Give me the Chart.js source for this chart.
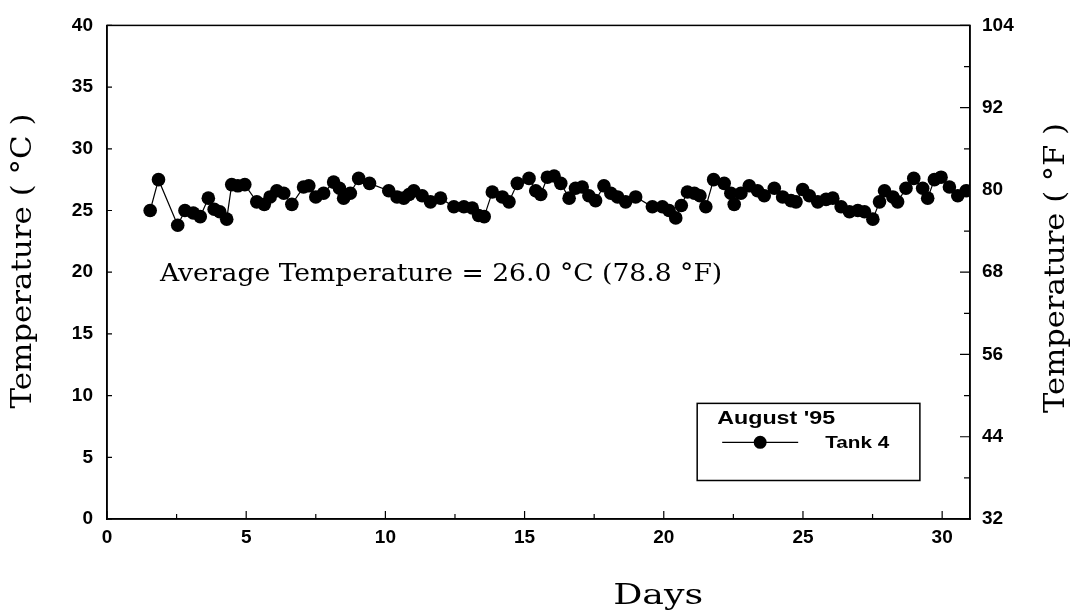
<!DOCTYPE html>
<html>
<head>
<meta charset="utf-8">
<script src="https://cdn.jsdelivr.net/npm/chart.js@4/dist/chart.umd.min.js"></script>
<style>
  body { margin: 0; background: #fff; }
  #wrap { width: 1078px; height: 611px; position: relative; }
</style>
</head>
<body>
<div id="wrap"><canvas id="tempChart"></canvas></div>
<script>
// days of August '95 and tank 4 temperature readings (deg C)
const days = [
  1.55, 1.85, 2.54, 2.8, 3.1, 3.35, 3.64, 3.85, 4.05, 4.3,
  4.48, 4.7, 4.95, 5.38, 5.65, 5.86, 6.1, 6.35, 6.64, 7.06,
  7.25, 7.5, 7.78, 8.14, 8.35, 8.5, 8.74, 9.04, 9.43, 10.12,
  10.42, 10.66, 10.85, 11.02, 11.32, 11.62, 11.98, 12.46, 12.82, 13.12,
  13.35, 13.55, 13.84, 14.2, 14.44, 14.74, 15.16, 15.4, 15.58, 15.82,
  16.06, 16.3, 16.6, 16.83, 17.07, 17.31, 17.55, 17.85, 18.1, 18.34,
  18.63, 18.99, 19.59, 19.95, 20.19, 20.43, 20.63, 20.85, 21.1, 21.3,
  21.51, 21.79, 22.17, 22.41, 22.53, 22.77, 23.07, 23.37, 23.61, 23.97,
  24.27, 24.57, 24.75, 24.99, 25.23, 25.53, 25.83, 26.07, 26.37, 26.67,
  26.97, 27.21, 27.51, 27.75, 27.93, 28.23, 28.4, 28.7, 28.98, 29.3,
  29.48, 29.72, 29.96, 30.26, 30.56, 30.86
];
const tempC = [
  25.0, 27.5, 23.8, 25.0, 24.8, 24.5, 26.0, 25.1, 24.9, 24.3,
  27.1, 27.0, 27.1, 25.7, 25.5, 26.1, 26.6, 26.4, 25.5, 26.9,
  27.0, 26.1, 26.4, 27.3, 26.8, 26.0, 26.4, 27.6, 27.2, 26.6,
  26.1, 26.0, 26.3, 26.6, 26.2, 25.7, 26.0, 25.3, 25.3, 25.2,
  24.6, 24.5, 26.5, 26.1, 25.7, 27.2, 27.6, 26.6, 26.3, 27.7,
  27.8, 27.2, 26.0, 26.8, 26.9, 26.2, 25.8, 27.0, 26.4, 26.1,
  25.7, 26.1, 25.3, 25.3, 25.0, 24.4, 25.4, 26.5, 26.4, 26.2,
  25.3, 27.5, 27.2, 26.4, 25.5, 26.4, 27.0, 26.6, 26.2, 26.8,
  26.1, 25.8, 25.7, 26.7, 26.2, 25.7, 25.9, 26.0, 25.3, 24.9,
  25.0, 24.9, 24.3, 25.7, 26.6, 26.1, 25.7, 26.8, 27.6, 26.8,
  26.0, 27.5, 27.7, 26.9, 26.2, 26.6
];

const dayTicks = [0, 2.5, 5, 7.5, 10, 12.5, 15, 17.5, 20, 22.5, 25, 27.5, 30];
const dayLabels = [0, 5, 10, 15, 20, 25, 30];
const cTicks = [0, 5, 10, 15, 20, 25, 30, 35, 40];
const fTicks = [32, 38, 44, 50, 56, 62, 68, 74, 80, 86, 92, 98, 104];
const fLabels = [32, 44, 56, 68, 80, 92, 104];

const seriesName = 'Tank 4';
const legendTitle = "August '95";
const avgText = 'Average Temperature = 26.0 °C (78.8 °F)';

const tickFont = { family: 'Liberation Sans', size: 19, weight: 'bold' };
const serif = 'DejaVu Serif';

// draw text squeezed or stretched to a given width (the scanned fonts are wide)
function fitText(ctx, text, x, y, w, angle = 0) {
  const m = ctx.measureText(text).width;
  ctx.save();
  ctx.translate(x, y);
  ctx.rotate(angle);
  ctx.scale(w / m, 1);
  ctx.fillText(text, 0, 0);
  ctx.restore();
}

const extras = {
  id: 'extras',
  afterDraw(chart) {
    const { ctx, chartArea: a, scales } = chart;
    const x = scales.x, yc = scales.y, yf = scales.yF;
    ctx.save();
    ctx.strokeStyle = '#000';
    ctx.fillStyle = '#000';

    // frame
    ctx.lineWidth = 1.5;
    ctx.strokeRect(a.left, a.top, a.right - a.left, a.bottom - a.top);

    // inward ticks
    ctx.lineWidth = 1.2;
    ctx.beginPath();
    dayTicks.forEach(v => {
      const px = x.getPixelForValue(v);
      const len = dayLabels.includes(v) ? 8 : 5;
      ctx.moveTo(px, a.bottom);
      ctx.lineTo(px, a.bottom - len);
    });
    cTicks.forEach(v => {
      const py = yc.getPixelForValue(v);
      ctx.moveTo(a.left, py);
      ctx.lineTo(a.left + 5, py);
    });
    fTicks.forEach(v => {
      const py = yf.getPixelForValue(v);
      const len = fLabels.includes(v) ? 10 : 6;
      ctx.moveTo(a.right, py);
      ctx.lineTo(a.right - len, py);
    });
    ctx.stroke();

    // axis titles
    ctx.font = `28px "${serif}"`;
    ctx.textAlign = 'center';
    ctx.textBaseline = 'middle';
    fitText(ctx, 'Temperature ( °C )', 24, 261, 295, -Math.PI / 2);
    fitText(ctx, 'Temperature ( °F )', 1057, 268, 290, -Math.PI / 2);
    fitText(ctx, 'Days', x.getPixelForValue(19.8), 597, 90);

    // average annotation
    ctx.font = `24px "${serif}"`;
    ctx.textAlign = 'left';
    ctx.textBaseline = 'alphabetic';
    const ax0 = x.getPixelForValue(1.9), ax1 = x.getPixelForValue(22.1);
    fitText(ctx, avgText, ax0, yc.getPixelForValue(19.3), ax1 - ax0);

    // legend box
    const bl = x.getPixelForValue(21.2), br = x.getPixelForValue(29.2);
    const bt = yc.getPixelForValue(9.37), bb = yc.getPixelForValue(3.12);
    ctx.lineWidth = 1.5;
    ctx.strokeRect(bl, bt, br - bl, bb - bt);
    ctx.font = 'bold 19px "Liberation Sans"';
    fitText(ctx, legendTitle, bl + 20, bt + 21, 118);
    const ly = bt + 39;
    ctx.lineWidth = 1.2;
    ctx.beginPath();
    ctx.moveTo(bl + 25, ly);
    ctx.lineTo(bl + 101, ly);
    ctx.stroke();
    ctx.beginPath();
    ctx.arc(bl + 63, ly, 6.5, 0, Math.PI * 2);
    ctx.fill();
    ctx.font = 'bold 17px "Liberation Sans"';
    fitText(ctx, seriesName, bl + 128, ly + 6, 64);
    ctx.restore();
  }
};

new Chart(document.getElementById('tempChart'), {
  type: 'line',
  data: {
    datasets: [{
      label: seriesName,
      data: days.map((d, i) => ({ x: d, y: tempC[i] })),
      yAxisID: 'y',
      borderColor: '#000',
      borderWidth: 1.2,
      pointRadius: 6.8,
      pointBackgroundColor: '#000',
      pointBorderWidth: 0,
      tension: 0
    }]
  },
  options: {
    responsive: true,
    maintainAspectRatio: false,
    animation: false,
    layout: { padding: { top: 20 } },
    plugins: { legend: { display: false }, tooltip: { enabled: false } },
    scales: {
      x: {
        type: 'linear',
        position: 'bottom',
        min: 0,
        max: 31,
        afterBuildTicks: s => { s.ticks = dayTicks.map(v => ({ value: v })); },
        afterFit: s => { s.height = 92; },
        ticks: {
          autoSkip: false,
          maxRotation: 0,
          padding: 7,
          color: '#000',
          font: tickFont,
          callback: v => dayLabels.includes(v) ? v : ''
        },
        grid: { drawOnChartArea: false, drawTicks: false },
        border: { color: '#000', width: 1.5 }
      },
      y: {
        type: 'linear',
        position: 'left',
        min: 0,
        max: 40,
        afterBuildTicks: s => { s.ticks = cTicks.map(v => ({ value: v })); },
        afterFit: s => { s.width = 107; },
        ticks: { padding: 14, color: '#000', font: tickFont },
        grid: { drawOnChartArea: false, drawTicks: false },
        border: { color: '#000', width: 1.5 }
      },
      yF: {
        type: 'linear',
        position: 'right',
        min: 32,
        max: 104,
        afterBuildTicks: s => { s.ticks = fTicks.map(v => ({ value: v })); },
        afterFit: s => { s.width = 108; },
        ticks: {
          padding: 12,
          color: '#000',
          font: tickFont,
          callback: v => fLabels.includes(v) ? v : ''
        },
        grid: { drawOnChartArea: false, drawTicks: false },
        border: { color: '#000', width: 1.5 }
      }
    }
  },
  plugins: [extras]
});
</script>
</body>
</html>
